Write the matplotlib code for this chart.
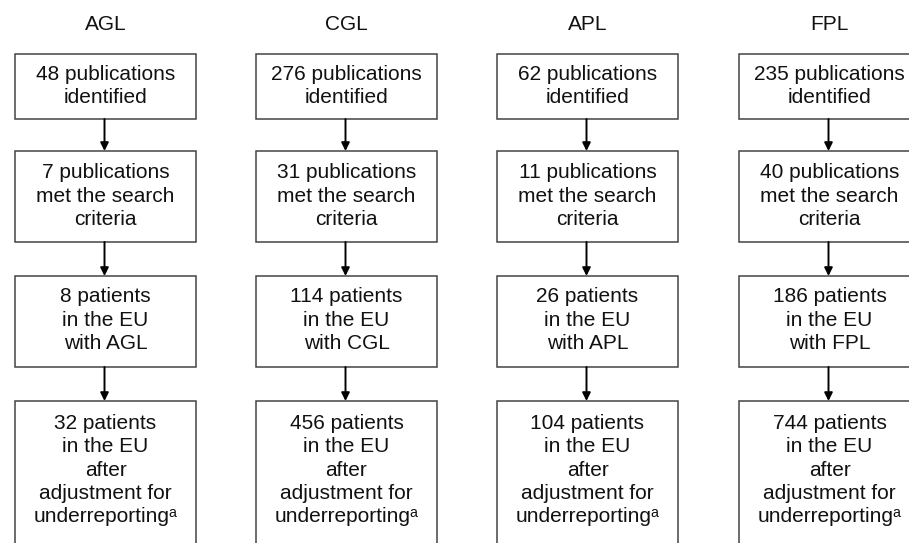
import matplotlib
matplotlib.use("Agg")
import matplotlib.pyplot as plt
from matplotlib.patches import Rectangle

# data
conditions = ["AGL", "CGL", "APL", "FPL"]
identified = [48, 276, 62, 235]
met_criteria = [7, 31, 11, 40]
patients = [8, 114, 26, 186]
adjusted = [32, 456, 104, 744]

plt.rcParams["font.family"] = ["Liberation Sans", "DejaVu Sans"]

fig = plt.figure(figsize=(9.09, 5.43), dpi=100)
ax = fig.add_axes([0, 0, 1, 1])
ax.set_xlim(0, 909)
ax.set_ylim(543, 0)
ax.axis("off")

# layout (pixels)
col_left = [15, 256, 497, 739]
box_w = 181
rows = [(54, 119), (151, 242), (276, 367), (401, 560)]
text_y = [86, 196, 320, 470]
fs = 15
edge = "#444444"
txt = "#111111"

for i, cond in enumerate(conditions):
    x0 = col_left[i]
    xc = x0 + box_w / 2
    ax.text(xc, 25, cond, ha="center", va="center", fontsize=fs, color=txt)

    labels = [
        f"{identified[i]} publications\nidentified",
        f"{met_criteria[i]} publications\nmet the search\ncriteria",
        f"{patients[i]} patients\nin the EU\nwith {cond}",
        f"{adjusted[i]} patients\nin the EU\nafter\nadjustment for\nunderreporting\u1d43",
    ]
    for r, (top, bot) in enumerate(rows):
        ax.add_patch(Rectangle((x0, top), box_w, bot - top, facecolor="white",
                               edgecolor=edge, linewidth=1.1))
        ax.text(xc, text_y[r], labels[r], ha="center", va="center",
                fontsize=fs, color=txt, linespacing=1.28, multialignment="center")
        if r < len(rows) - 1:
            ax.annotate("", xy=(xc - 1, rows[r + 1][0]), xytext=(xc - 1, bot),
                        arrowprops=dict(arrowstyle="-|>", color="black", lw=1.4,
                                        mutation_scale=12, shrinkA=0, shrinkB=0))

fig.savefig("out.png", dpi=100)
